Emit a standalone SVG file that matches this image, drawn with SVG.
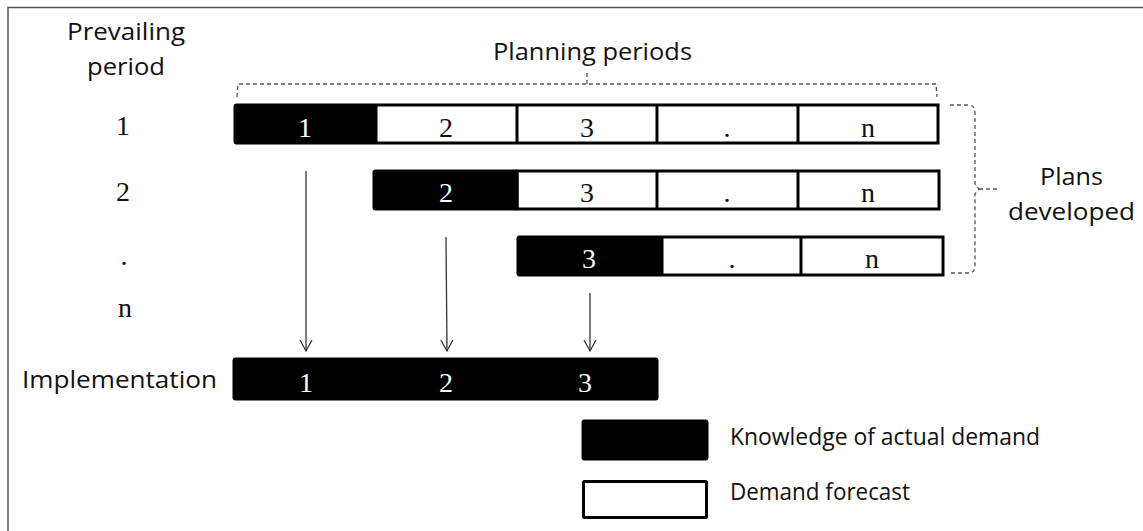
<svg xmlns="http://www.w3.org/2000/svg" width="1143" height="531" viewBox="0 0 1143 531">
  <style>
    .sans { font-family: "Open Sans", "Noto Sans", sans-serif; font-size: 24px; fill: #111; }
    .serif { font-family: "Liberation Serif", "DejaVu Serif", serif; fill: #111; }
    .known { fill: #000; stroke: #000; stroke-width: 1; }
    .fcast { fill: #fff; stroke: #000; stroke-width: 3; }
    .cell-w { font-family: "Liberation Serif", serif; font-size: 28px; fill: #fff; text-anchor: middle; }
    .cell-b { font-family: "Liberation Serif", serif; font-size: 28px; fill: #111; text-anchor: middle; }
    .dash { fill: none; stroke: #555; stroke-width: 1.3; stroke-dasharray: 4 3; }
    .arrow { fill: none; stroke: #333; stroke-width: 1.3; }
  </style>
  <defs>
    <marker id="head" markerWidth="14" markerHeight="16" refX="12" refY="7" orient="auto" markerUnits="userSpaceOnUse">
      <path d="M1,1 L12,7 L1,13" fill="none" stroke="#333" stroke-width="1.3"/>
    </marker>
  </defs>

  <rect width="1143" height="531" fill="#fff"/>
  <!-- frame: top and left edge -->
  <path d="M8,531 V7.5 H1143" fill="none" stroke="#555" stroke-width="1.5"/>

  <!-- headings -->
  <g id="heading-prevailing">
    <text class="sans" x="67" y="40" textLength="118" lengthAdjust="spacingAndGlyphs">Prevailing</text>
    <text class="sans" x="87" y="75" textLength="78" lengthAdjust="spacingAndGlyphs">period</text>
  </g>
  <g id="heading-planning">
    <text class="sans" x="493" y="60" textLength="199" lengthAdjust="spacingAndGlyphs">Planning periods</text>
  </g>

  <!-- row labels -->
  <g id="row-labels" class="serif" font-size="28" text-anchor="middle">
    <text x="123" y="135">1</text>
    <text x="123" y="201">2</text>
    <text x="124" y="265">.</text>
    <text x="125" y="317">n</text>
  </g>

  <!-- plan 1 -->
  <g id="plan-1">
    <rect class="fcast" x="376" y="105" width="562" height="38"/>
    <line x1="517" y1="105" x2="517" y2="143" stroke="#000" stroke-width="3"/>
    <line x1="657" y1="105" x2="657" y2="143" stroke="#000" stroke-width="3"/>
    <line x1="798" y1="105" x2="798" y2="143" stroke="#000" stroke-width="3"/>
    <rect class="known" x="234" y="104" width="142" height="40" rx="2"/>
    <text class="cell-w" x="305" y="137">1</text>
    <text class="cell-b" x="446" y="137">2</text>
    <text class="cell-b" x="587" y="137">3</text>
    <text class="cell-b" x="727" y="137">.</text>
    <text class="cell-b" x="868" y="137">n</text>
  </g>

  <!-- plan 2 -->
  <g id="plan-2">
    <rect class="fcast" x="517" y="171" width="422" height="38"/>
    <line x1="657" y1="171" x2="657" y2="209" stroke="#000" stroke-width="3"/>
    <line x1="798" y1="171" x2="798" y2="209" stroke="#000" stroke-width="3"/>
    <rect class="known" x="373" y="170" width="145" height="40" rx="2"/>
    <text class="cell-w" x="446" y="202">2</text>
    <text class="cell-b" x="587" y="202">3</text>
    <text class="cell-b" x="727" y="202">.</text>
    <text class="cell-b" x="868" y="202">n</text>
  </g>

  <!-- plan 3 -->
  <g id="plan-3">
    <rect class="fcast" x="662" y="237" width="281" height="38"/>
    <line x1="801" y1="237" x2="801" y2="275" stroke="#000" stroke-width="3"/>
    <rect class="known" x="517" y="236" width="145" height="40" rx="2"/>
    <text class="cell-w" x="589" y="268">3</text>
    <text class="cell-b" x="732" y="268">.</text>
    <text class="cell-b" x="872" y="268">n</text>
  </g>

  <!-- implementation -->
  <g id="implementation">
    <text class="sans" x="22" y="388" textLength="195" lengthAdjust="spacingAndGlyphs">Implementation</text>
    <rect class="known" x="233" y="358" width="425" height="42" rx="2"/>
    <text class="cell-w" x="306" y="392">1</text>
    <text class="cell-w" x="446" y="392">2</text>
    <text class="cell-w" x="585" y="392">3</text>
  </g>

  <!-- plans developed label -->
  <g id="plans-developed">
    <text class="sans" x="1040" y="185" textLength="63" lengthAdjust="spacingAndGlyphs">Plans</text>
    <text class="sans" x="1008" y="220" textLength="127" lengthAdjust="spacingAndGlyphs">developed</text>
  </g>

  <!-- connectors -->
  <g id="connectors">
    <line class="arrow" x1="306" y1="171" x2="306" y2="351" marker-end="url(#head)"/>
    <line class="arrow" x1="446" y1="237" x2="447" y2="351" marker-end="url(#head)"/>
    <line class="arrow" x1="590" y1="293" x2="590" y2="351" marker-end="url(#head)"/>
    <!-- brace over planning periods -->
    <path class="dash" d="M237,97 L238,84 H936 L937,97"/>
    <path class="dash" d="M587,84 V73"/>
    <!-- brace beside the plans -->
    <path class="dash" d="M950,105 H968 Q975,105 975,112 V184 L979,189 L975,194 V266 Q975,273 968,273 H950"/>
    <path class="dash" d="M979,189 H1000"/>
  </g>

  <!-- legend -->
  <g id="legend-known">
    <rect class="known" x="582" y="420" width="126" height="40" rx="2"/>
    <text class="sans" x="730" y="445" textLength="310" lengthAdjust="spacingAndGlyphs">Knowledge of actual demand</text>
  </g>
  <g id="legend-forecast">
    <rect class="fcast" x="583.5" y="481.5" width="123" height="36" rx="1"/>
    <text class="sans" x="730" y="500" textLength="180" lengthAdjust="spacingAndGlyphs">Demand forecast</text>
  </g>
</svg>
